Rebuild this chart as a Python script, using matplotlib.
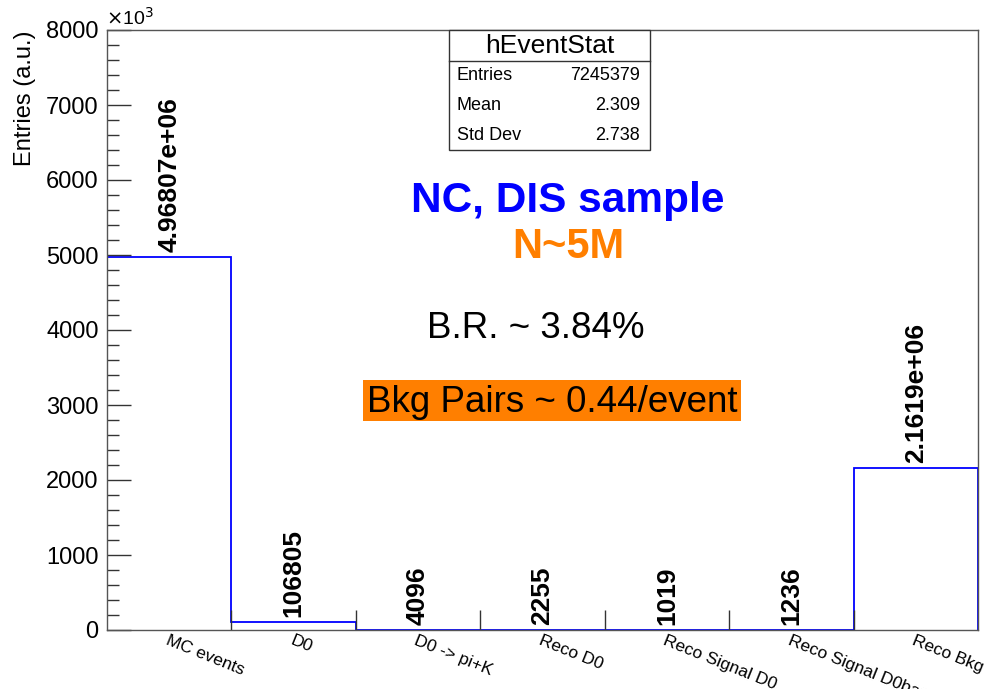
import numpy as np
import matplotlib
matplotlib.use("Agg")
import matplotlib.pyplot as plt
from matplotlib.ticker import MultipleLocator
from matplotlib.patches import Rectangle
from matplotlib.lines import Line2D

plt.rcParams['font.family'] = ['Liberation Sans', 'DejaVu Sans']

# Event selection counts per stage
categories = ["MC events", "D0", "D0 -> pi+K", "Reco D0",
              "Reco Signal D0", "Reco Signal D0bar", "Reco Bkg"]
counts = [4968070, 106805, 4096, 2255, 1019, 1236, 2161900]
count_labels = ["4.96807e+06", "106805", "4096", "2255", "1019", "1236", "2.1619e+06"]

stat_names = ["Entries", "Mean", "Std Dev"]
stat_values = ["7245379", "2.309", "2.738"]

W, H = 986, 689
fig = plt.figure(figsize=(W / 100, H / 100), dpi=100)


def fx(x):
    return x / W


def fy(y):
    return 1 - y / H


ax = fig.add_axes([fx(107), fy(630), fx(978) - fx(107), fy(30) - fy(630)])

edges = np.arange(len(counts) + 1)
vals = np.array(counts) / 1e3
ax.stairs(vals, edges, color="#0000ff", linewidth=1.3, baseline=0)
ax.set_xlim(0, len(counts))
ax.set_ylim(0, 8000)

# y axis
ax.yaxis.set_major_locator(MultipleLocator(1000))
ax.yaxis.set_minor_locator(MultipleLocator(200))
ax.tick_params(axis="y", which="major", direction="in", length=17, width=1,
               color="#333333", labelsize=17, pad=6)
ax.tick_params(axis="y", which="minor", direction="in", length=8.5, width=1,
               color="#333333")
ax.set_yticks(np.arange(0, 8001, 1000))
ax.set_yticklabels([str(v) for v in range(0, 8001, 1000)])

# x axis: ticks at bin edges, labels drawn separately
ax.set_xticks(edges[1:-1])
ax.set_xticklabels([])
ax.tick_params(axis="x", which="major", direction="in", length=14.4, width=1,
               color="#333333")
for s in ax.spines.values():
    s.set_color("#555555")
    s.set_linewidth(1)

centers = edges[:-1] + 0.5
for c, name in zip(centers, categories):
    ax.annotate(name, xy=(c, 0), xycoords=("data", "axes fraction"),
                xytext=(0, -2), textcoords="offset points",
                rotation=-22, rotation_mode="anchor", ha="left", va="top",
                fontsize=12.5, annotation_clip=False)

# value labels above bins
for c, v, lab in zip(centers, vals, count_labels):
    ax.annotate(lab, xy=(c, v), xytext=(0, 3.6), textcoords="offset points",
                rotation=90, ha="center", va="bottom", fontsize=19,
                fontweight="bold")

# axis title and exponent
fig.text(fx(25), fy(30), "Entries (a.u.)", rotation=90, ha="center", va="top",
         fontsize=17)
fig.text(fx(106), fy(29), r"$\times$10$^{3}$", ha="left", va="bottom", fontsize=14)

# stats box
bx0, bx1, by0, by1, bmid = 449, 650, 30, 150, 61
fig.patches.append(Rectangle((fx(bx0), fy(by1)), fx(bx1) - fx(bx0), fy(by0) - fy(by1),
                             transform=fig.transFigure, facecolor="white",
                             edgecolor="#333333", linewidth=1, zorder=5))
fig.lines.append(Line2D([fx(bx0), fx(bx1)], [fy(bmid), fy(bmid)],
                        transform=fig.transFigure, color="#333333", linewidth=1,
                        zorder=6))
fig.text(fx((bx0 + bx1) / 2), fy(46), "hEventStat", ha="center", va="center",
         fontsize=19, zorder=7)
for i, (n, v) in enumerate(zip(stat_names, stat_values)):
    yy = 76 + 30 * i
    fig.text(fx(bx0 + 8), fy(yy), n, ha="left", va="center", fontsize=13, zorder=7)
    fig.text(fx(bx1 - 10), fy(yy), v, ha="right", va="center", fontsize=13, zorder=7)

# annotations
fig.text(fx(568), fy(201), "NC, DIS sample", ha="center", va="center",
         fontsize=30.5, fontweight="bold", color="#0000ff")
fig.text(fx(568), fy(247), "N~5M", ha="center", va="center",
         fontsize=30, fontweight="bold", color="#ff7f00")
fig.text(fx(536), fy(328), "B.R. ~ 3.84%", ha="center", va="center",
         fontsize=26.5, color="black")
fig.patches.append(Rectangle((fx(363), fy(421)), fx(741) - fx(363), fy(380) - fy(421),
                             transform=fig.transFigure, facecolor="#ff7f00",
                             edgecolor="none", zorder=1))
fig.text(fx(552), fy(402), "Bkg Pairs ~ 0.44/event", ha="center", va="center",
         fontsize=26.5, color="black", zorder=2)

fig.savefig("out.png", dpi=100)
